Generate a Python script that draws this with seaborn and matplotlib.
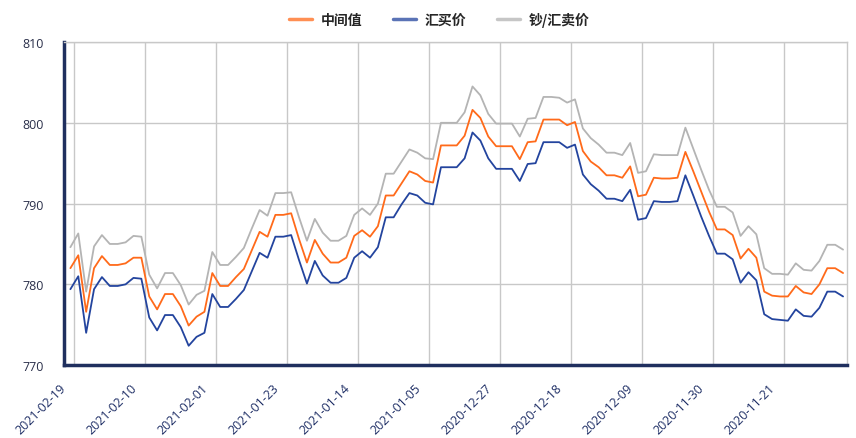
import numpy as np
import pandas as pd
import matplotlib
matplotlib.use("Agg")
import matplotlib.pyplot as plt
import seaborn as sns

# ---- data ----
start_date = "2021-02-19"
n_points = 99
dates = pd.date_range(end=start_date, periods=n_points)[::-1].strftime("%Y-%m-%d").tolist()

series_names = ["中间值", "汇买价", "钞/汇卖价"]

mid = [782.0, 783.6, 776.6, 782.0, 783.5, 782.4, 782.4, 782.6, 783.3, 783.3,
       778.5, 776.9, 778.8, 778.8, 777.3, 774.9, 776.0, 776.6, 781.4, 779.8,
       779.8, 780.9, 781.9, 784.2, 786.5, 785.9, 788.6, 788.6, 788.8, 785.6,
       782.7, 785.5, 783.8, 782.7, 782.7, 783.3, 786.0, 786.7, 785.9, 787.2,
       791.0, 791.0, 792.5, 794.0, 793.6, 792.8, 792.6, 797.2, 797.2, 797.2,
       798.4, 801.6, 800.6, 798.3, 797.1, 797.1, 797.1, 795.5, 797.6, 797.7,
       800.4, 800.4, 800.4, 799.7, 800.1, 796.5, 795.2, 794.5, 793.5, 793.5,
       793.2, 794.6, 790.9, 791.1, 793.2, 793.1, 793.1, 793.2, 796.4, 794.0,
       791.5, 789.0, 786.8, 786.8, 786.1, 783.2, 784.4, 783.3, 779.1, 778.6,
       778.5, 778.5, 779.8, 779.0, 778.8, 780.0, 782.0, 782.0, 781.4]

buy = [779.4, 781.0, 774.0, 779.4, 780.9, 779.8, 779.8, 780.0, 780.8, 780.7,
       775.9, 774.3, 776.2, 776.2, 774.7, 772.4, 773.5, 774.0, 778.8, 777.2,
       777.2, 778.2, 779.3, 781.6, 783.9, 783.3, 785.9, 785.9, 786.1, 783.0,
       780.1, 782.9, 781.1, 780.2, 780.2, 780.8, 783.3, 784.1, 783.3, 784.6,
       788.3, 788.3, 789.9, 791.3, 791.0, 790.1, 789.9, 794.5, 794.5, 794.5,
       795.6, 798.8, 797.8, 795.6, 794.3, 794.3, 794.3, 792.8, 794.9, 795.0,
       797.6, 797.6, 797.6, 796.9, 797.3, 793.6, 792.4, 791.6, 790.6, 790.6,
       790.3, 791.7, 788.0, 788.2, 790.3, 790.2, 790.2, 790.3, 793.5, 791.0,
       788.4, 786.0, 783.8, 783.8, 783.1, 780.2, 781.5, 780.5, 776.3, 775.7,
       775.6, 775.5, 776.9, 776.1, 776.0, 777.1, 779.1, 779.1, 778.5]

sell = [784.6, 786.3, 779.1, 784.7, 786.1, 785.0, 785.0, 785.2, 786.0, 785.9,
        781.2, 779.5, 781.4, 781.4, 779.9, 777.5, 778.7, 779.2, 784.0, 782.4,
        782.4, 783.4, 784.5, 786.9, 789.2, 788.5, 791.3, 791.3, 791.4, 788.3,
        785.4, 788.1, 786.4, 785.4, 785.4, 786.0, 788.6, 789.4, 788.6, 790.0,
        793.7, 793.7, 795.2, 796.7, 796.3, 795.6, 795.5, 800.0, 800.0, 800.0,
        801.3, 804.5, 803.4, 801.1, 799.9, 799.9, 799.9, 798.3, 800.5, 800.6,
        803.2, 803.2, 803.1, 802.5, 802.9, 799.3, 798.1, 797.3, 796.3, 796.3,
        796.0, 797.5, 793.8, 794.0, 796.1, 796.0, 796.0, 796.0, 799.4, 796.8,
        794.2, 791.7, 789.6, 789.6, 788.9, 786.0, 787.2, 786.2, 782.0, 781.3,
        781.3, 781.2, 782.6, 781.8, 781.7, 782.9, 784.9, 784.9, 784.3]

tick_labels = ["2021-02-19", "2021-02-10", "2021-02-01", "2021-01-23", "2021-01-14",
               "2021-01-05", "2020-12-27", "2020-12-18", "2020-12-09", "2020-11-30",
               "2020-11-21"]
y_ticks = [770, 780, 790, 800, 810]

# ---- long-form frame ----
idx = np.arange(len(dates))
df = pd.concat([
    pd.DataFrame({"idx": idx, "date": dates, "value": vals, "series": name})
    for name, vals in zip(series_names, [mid, buy, sell])
], ignore_index=True)

colors = {"中间值": "#FF6A1A", "汇买价": "#23449E", "钞/汇卖价": "#B4B4B4"}

sns.set_theme(style="white")
plt.rcParams["font.family"] = ["Noto Sans CJK SC", "DejaVu Sans"]

fig = plt.figure(figsize=(8.56, 4.39), dpi=100)
ax = fig.add_axes([0.0744, 0.166, 0.9151, 0.736])

sns.lineplot(data=df, x="idx", y="value", hue="series", hue_order=series_names,
             palette=colors, linewidth=1.3, ax=ax, legend=False, sort=False)

ax.set_xlim(-0.5, len(dates) - 0.5)
ax.set_ylim(770, 810)
ax.set_xlabel("")
ax.set_ylabel("")

cat_pos = [dates.index(t) for t in tick_labels]
# major ticks / grid at category boundaries, labels on minor ticks near centres
ax.set_xticks([p + 0.5 for p in cat_pos])
ax.set_xticklabels([])
ax.set_xticks([p - 0.85 for p in cat_pos], minor=True)
ax.set_xticklabels(tick_labels, minor=True, rotation=45, ha="right", va="center",
                   rotation_mode="anchor", fontsize=9, color="#1F2F66",
                   family=["Open Sans", "DejaVu Sans"])

ax.set_yticks(y_ticks)
ax.set_yticklabels([str(v) for v in y_ticks], fontsize=9, color="#2A2F4A",
                   family=["Open Sans", "DejaVu Sans"])

ax.grid(True, which="major", color="#C8C8C8", linewidth=1.0)
ax.tick_params(axis="both", which="major", direction="in", length=4, width=1.2,
               color="#1F2F5E")
ax.tick_params(axis="x", which="minor", length=0, pad=15)
ax.tick_params(axis="y", pad=14)

for side in ["left", "bottom"]:
    ax.spines[side].set_color("#1F2F5E")
    ax.spines[side].set_linewidth(2.5)
for side in ["top", "right"]:
    ax.spines[side].set_color("#C8C8C8")
    ax.spines[side].set_linewidth(1.0)

handles = [plt.Line2D([0], [0], color=colors[n], linewidth=2.5, alpha=0.75) for n in series_names]
fig.legend(handles, series_names, loc="upper center", bbox_to_anchor=(0.513, 1.0),
           ncol=3, frameon=False, handlelength=1.7, handletextpad=0.6,
           columnspacing=2.2, prop={"weight": "bold", "size": 10})

fig.savefig("out.png", dpi=100)
